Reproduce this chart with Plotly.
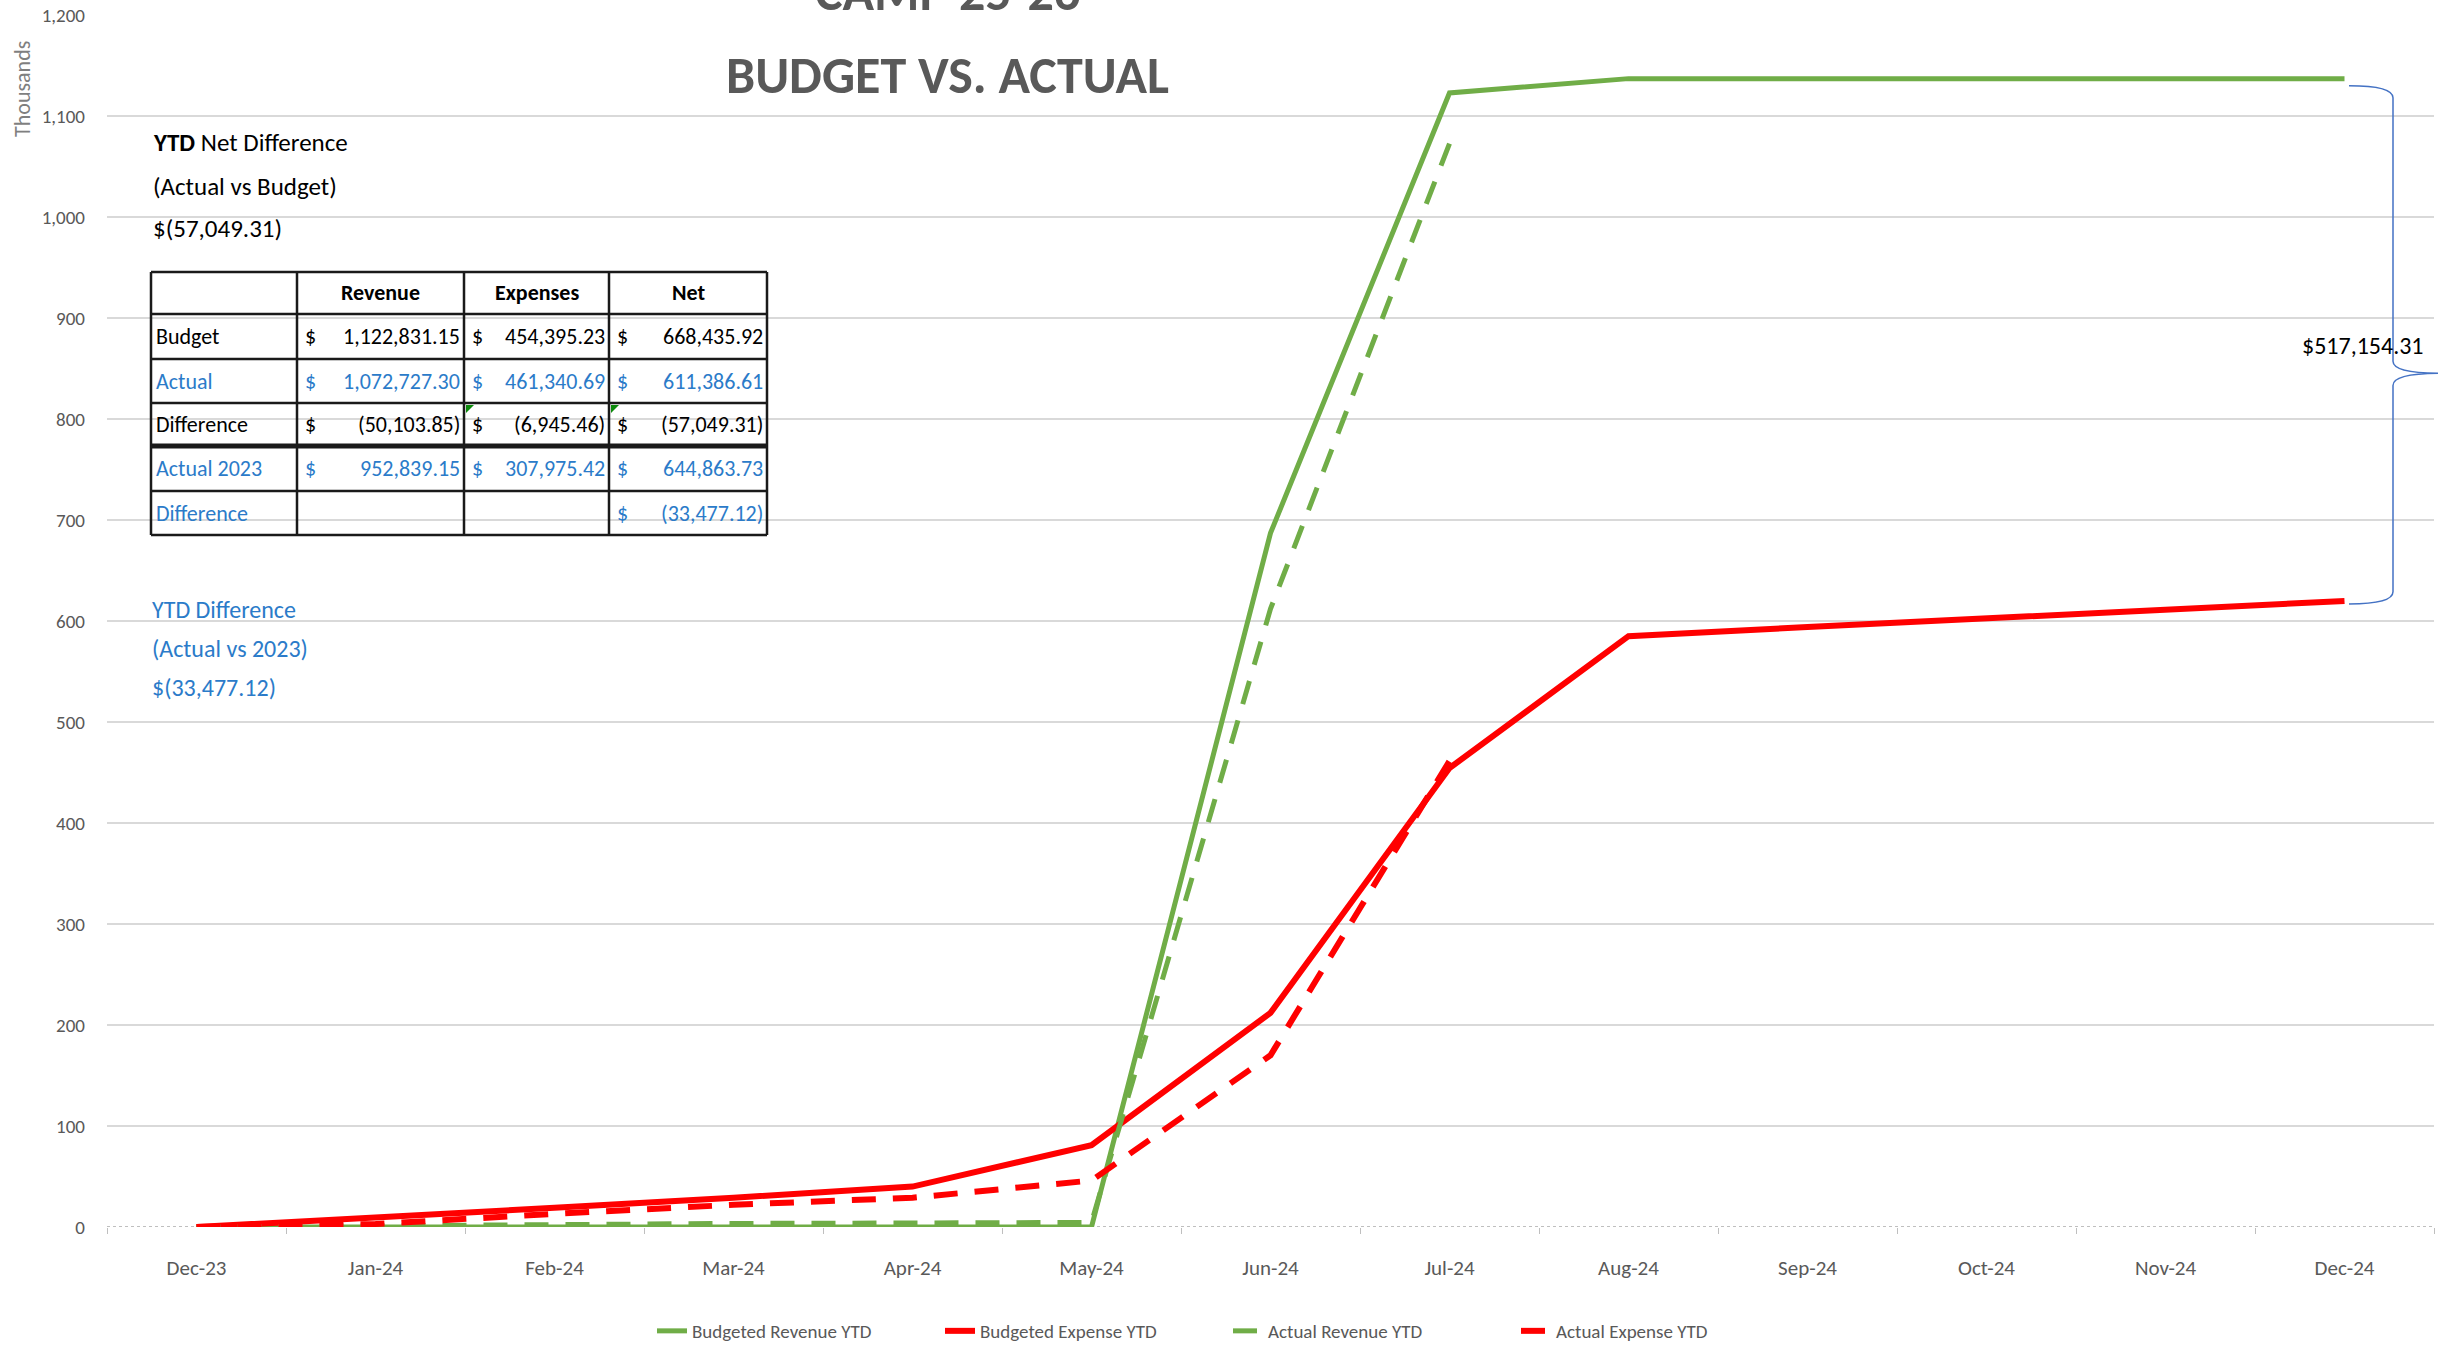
import plotly.graph_objects as go

# ---- data (values in thousands) ----
months = ["Dec-23", "Jan-24", "Feb-24", "Mar-24", "Apr-24", "May-24", "Jun-24",
          "Jul-24", "Aug-24", "Sep-24", "Oct-24", "Nov-24", "Dec-24"]
budget_revenue = [0, 0, 0, 0, 0, 0, 687, 1122.83, 1137.0, 1137.0, 1137.0, 1137.0, 1137.0]
budget_expense = [0, 9, 19, 29, 40, 81, 212, 454.40, 585, 594, 603, 611, 619.85]
actual_revenue = [0, 1.5, 3, 3.5, 4, 4.5, 612, 1072.73]
actual_expense = [0, 3, 13, 22, 29, 46, 170, 461.34]

series_names = ["Budgeted Revenue YTD", "Budgeted Expense YTD",
                "Actual Revenue YTD", "Actual Expense YTD"]

# summary table
table_header = ["", "Revenue", "Expenses", "Net"]
row_labels = ["Budget", "Actual", "Difference", "Actual 2023", "Difference"]
revenue_col = ["1,122,831.15", "1,072,727.30", "(50,103.85)", "952,839.15", ""]
expenses_col = ["454,395.23", "461,340.69", "(6,945.46)", "307,975.42", ""]
net_col = ["668,435.92", "611,386.61", "(57,049.31)", "644,863.73", "(33,477.12)"]

net_note = ["<b>YTD</b> Net Difference", "(Actual vs Budget)", "$(57,049.31)"]
ytd_note = ["YTD Difference", "(Actual vs 2023)", "$(33,477.12)"]
gap_label = "$517,154.31"
title_lines = ["CAMP 25-26", "BUDGET VS. ACTUAL"]

# ---- style ----
GREEN = "#70AD47"
RED = "#FF0000"
BLUE = "#2B7BC9"
GRAY = "#595959"
FONT = "Carlito, Lato, sans-serif"

W, H = 2438, 1347
L, R, T, B = 107, 4, 15, H - 1227
PW, PH = W - L - R, H - T - B


# helpers take pixel positions on the page
def px(x):
    return (x - L) / PW


def py(y):
    return (H - B - y) / PH


def note(text, x, y, size, color, xanchor="left", **kw):
    return dict(text=text, x=px(x), y=py(y), xref="paper", yref="paper", xanchor=xanchor,
                yanchor="middle", showarrow=False, font=dict(family=FONT, size=size, color=color), **kw)


fig = go.Figure()
fig.add_trace(go.Scatter(x=months, y=budget_revenue, name=series_names[0], mode="lines",
                         line=dict(color=GREEN, width=5)))
fig.add_trace(go.Scatter(x=months, y=budget_expense, name=series_names[1], mode="lines",
                         line=dict(color=RED, width=6)))
fig.add_trace(go.Scatter(x=months[:len(actual_revenue)], y=actual_revenue, name=series_names[2],
                         mode="lines", line=dict(color=GREEN, width=5, dash="24px,17px")))
fig.add_trace(go.Scatter(x=months[:len(actual_expense)], y=actual_expense, name=series_names[3],
                         mode="lines", line=dict(color=RED, width=6, dash="24px,17px")))

ann = []
shapes = []

# title (first line runs off the top like the original)
ann.append(note("<b>%s</b>" % title_lines[0], 948, -8, 52, GRAY, xanchor="center"))
ann.append(note("<b>%s</b>" % title_lines[1], 948, 75, 52, GRAY, xanchor="center"))

# y axis unit label
ann.append(note("Thousands", 22, 89, 22, "#7F7F7F", xanchor="center", textangle=-90))

# notes
for i, t in enumerate(net_note):
    ann.append(note(t, 151, 143 + i * 43, 25, "black"))
for i, t in enumerate(ytd_note):
    ann.append(note(t, 150, 609 + i * 39, 24, BLUE))

# table
col_x = [151, 297, 464, 609, 767]
row_y = [272, 314, 359, 403, 446, 491, 535]
row_colors = ["black", BLUE, "black", BLUE, BLUE]
for i, x in enumerate(col_x):
    shapes.append(dict(type="line", xref="paper", yref="paper", x0=px(x), x1=px(x),
                       y0=py(row_y[0]), y1=py(row_y[-1]), line=dict(color="#1A1A1A", width=2.5)))
for j, y in enumerate(row_y):
    shapes.append(dict(type="line", xref="paper", yref="paper", x0=px(col_x[0]), x1=px(col_x[-1]),
                       y0=py(y), y1=py(y), line=dict(color="#1A1A1A", width=5 if j == 4 else 2.5)))
for c in range(1, 4):
    ann.append(note("<b>%s</b>" % table_header[c], (col_x[c] + col_x[c + 1]) / 2,
                    (row_y[0] + row_y[1]) / 2, 22, "black", xanchor="center"))
cols = [revenue_col, expenses_col, net_col]
for r, lab in enumerate(row_labels):
    yc = (row_y[r + 1] + row_y[r + 2]) / 2
    ann.append(note(lab, col_x[0] + 3, yc, 22, row_colors[r]))
    for c, col in enumerate(cols):
        if not col[r]:
            continue
        ann.append(note("$", col_x[c + 1] + 6, yc, 22, row_colors[r]))
        ann.append(note(col[r], col_x[c + 2] - 2, yc, 22, row_colors[r], xanchor="right"))

# little green error flags in the table
for x in (col_x[2], col_x[3]):
    shapes.append(dict(type="path", xref="paper", yref="paper", fillcolor="#0B8A0B", line=dict(width=0),
                       path="M %f %f L %f %f L %f %f Z" % (px(x + 2), py(row_y[3] + 2), px(x + 10),
                                                           py(row_y[3] + 2), px(x + 2), py(row_y[3] + 10))))

# baseline (dotted)
shapes.append(dict(type="line", xref="paper", yref="y", x0=0, x1=1, y0=0, y1=0,
                   line=dict(color="#BFBFBF", width=2, dash="dot"), layer="below"))

# brace between budgeted revenue and expense at year end
top = budget_revenue[-1] - 7
bot = budget_expense[-1] - 3
tip = top - 0.555 * (top - bot)
x0, xv, xt = px(2349), px(2393), px(2442)
d = 12
brace = ("M {x0} {top} Q {xv} {top} {xv} {a} L {xv} {b} Q {xv} {tip} {xt} {tip} "
         "Q {xv} {tip} {xv} {c} L {xv} {e} Q {xv} {bot} {x0} {bot}").format(
    x0=x0, xv=xv, xt=xt, top=top, a=top - d, b=tip + d, tip=tip, c=tip - d, e=bot + d, bot=bot)
shapes.append(dict(type="path", xref="paper", yref="y", path=brace,
                   line=dict(color="#4472C4", width=1.5)))
ann.append(note(gap_label, 2426, 345, 24, "black", xanchor="right"))

fig.update_layout(
    width=W, height=H,
    margin=dict(l=L, r=R, t=T, b=B, autoexpand=False),
    paper_bgcolor="white", plot_bgcolor="white",
    font=dict(family=FONT, color=GRAY),
    showlegend=True,
    legend=dict(orientation="h", x=px(652), xanchor="left", y=py(1331), yanchor="middle",
                entrywidth=243, font=dict(family=FONT, size=19, color=GRAY)),
    annotations=ann,
    shapes=shapes,
)
fig.update_xaxes(type="category", range=[-0.5, 12.5], showgrid=False, showline=False, zeroline=False,
                 automargin=False, ticks="outside", tickson="boundaries", ticklen=6, tickcolor="#BFBFBF",
                 tickfont=dict(family=FONT, size=21, color=GRAY), ticklabelstandoff=26)
fig.update_yaxes(range=[0, 1200], dtick=100, tickformat=",", showgrid=True, gridcolor="#D9D9D9",
                 gridwidth=2, zeroline=False, showline=False, automargin=False,
                 ticklabeloverflow="allow",
                 tickfont=dict(family=FONT, size=19, color=GRAY), ticklabelstandoff=21)

# drop the default page margin so the chart sits flush with the window
fig.write_html("out.html", config={"displayModeBar": False},
               post_script="document.body.style.margin='0';")
